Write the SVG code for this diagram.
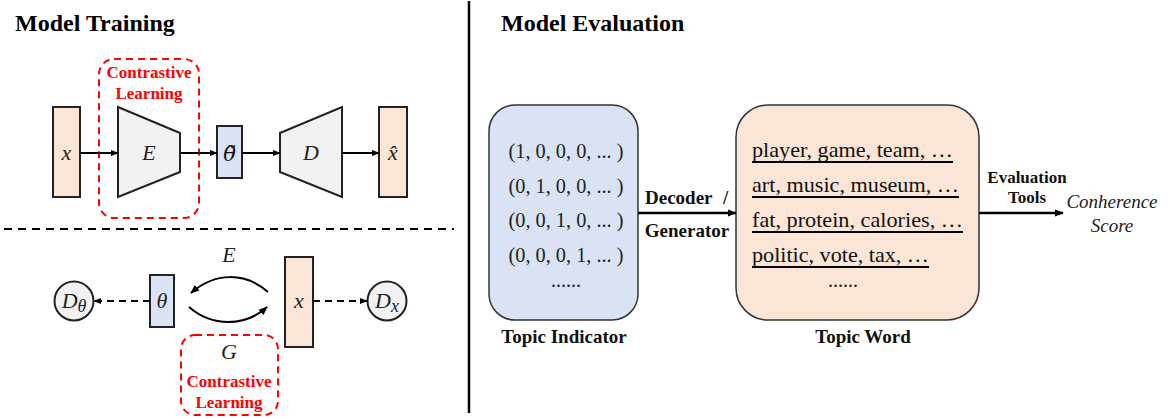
<svg xmlns="http://www.w3.org/2000/svg" width="1169" height="419" viewBox="0 0 1169 419">
<defs>
<marker id="arr" viewBox="0 0 10 10" refX="9" refY="5" markerWidth="9" markerHeight="9" markerUnits="userSpaceOnUse" orient="auto">
<path d="M0,1 L10,5 L0,9 Z" fill="#000"/>
</marker>
<marker id="arrS" viewBox="0 0 10 10" refX="9" refY="5" markerWidth="8" markerHeight="8" markerUnits="userSpaceOnUse" orient="auto">
<path d="M0,1 L10,5 L0,9 Z" fill="#000"/>
</marker>
</defs>
<style>
text{font-family:"Liberation Serif","Times New Roman",serif}
.title{font-weight:bold;font-size:24px;fill:#000}
.math{font-style:italic;font-size:22px;fill:#222;text-anchor:middle}
.mathdv{font-family:"DejaVu Serif",serif;font-style:italic;font-size:21px;fill:#111;text-anchor:middle}
.red{font-weight:bold;font-size:17px;fill:#ff0000;text-anchor:middle}
.redbox{fill:none;stroke:#ff0000;stroke-width:2;stroke-dasharray:7,5}
.peach{fill:#fbe5d6;stroke:#222;stroke-width:2}
.blue{fill:#dae3f3;stroke:#222;stroke-width:2}
.gray{fill:#f2f2f2;stroke:#222;stroke-width:2}
.ln{stroke:#000;stroke-width:2;fill:none}
.dash{stroke:#000;stroke-width:2;fill:none;stroke-dasharray:7,5}
.tup{font-size:20px;fill:#222;text-anchor:middle}
.word{font-size:21px;fill:#111}
.lbl{font-weight:bold;font-size:19px;fill:#111;text-anchor:middle}
.lbls{font-weight:bold;font-size:19px;fill:#111;text-anchor:start}
.small{font-weight:bold;font-size:17px;fill:#111;text-anchor:middle}
.score{font-style:italic;font-size:19px;fill:#222;text-anchor:middle}
.ul{stroke:#000;stroke-width:2}
</style>

<g id="dividers">
<line x1="469" y1="1" x2="469" y2="413" stroke="#000" stroke-width="2.5"/>
<line x1="4" y1="229" x2="454" y2="229" stroke="#000" stroke-width="2" stroke-dasharray="8,6"/>
</g>

<text class="title" x="15" y="31">Model Training</text>
<text class="title" x="501" y="31">Model Evaluation</text>

<g id="x-in"><rect class="peach" x="53" y="107" width="27" height="90"/><text class="math" x="66.5" y="160">x</text></g>
<g id="encoder"><polygon class="gray" points="118,107 180,133 180,172 118,197"/><text class="math" x="149" y="160">E</text></g>
<g id="theta-tilde"><rect class="blue" x="217" y="126" width="25" height="52"/><text class="mathdv" x="229.5" y="161">θ̃</text></g>
<g id="decoder"><polygon class="gray" points="280,133 342,107 342,197 280,172"/><text class="math" x="311" y="160">D</text></g>
<g id="x-hat"><rect class="peach" x="379" y="107" width="28" height="90"/><text class="math" x="393" y="160">x̂</text></g>
<g id="cl-top"><rect class="redbox" x="99" y="59" width="100" height="159" rx="15"/><text class="red" x="149" y="78">Contrastive</text><text class="red" x="149" y="99">Learning</text></g>

<g id="d-theta"><circle class="gray" cx="74" cy="301" r="19.5"/><text class="math" x="74" y="308">D<tspan font-size="18" dy="4">θ</tspan></text></g>
<g id="theta"><rect class="blue" x="150" y="275" width="24" height="52"/><text class="math" x="162" y="308">θ</text></g>
<g id="x-mid"><rect class="peach" x="285" y="257" width="28" height="90"/><text class="math" x="299" y="308">x</text></g>
<g id="d-x"><circle class="gray" cx="387" cy="301" r="19.5"/><text class="math" x="387" y="308">D<tspan font-size="18" dy="4">x</tspan></text></g>
<text class="math" x="229" y="262">E</text>
<g id="cl-bottom"><rect class="redbox" x="181" y="335" width="97" height="80" rx="14"/><text class="math" x="229" y="359">G</text><text class="red" x="229" y="387">Contrastive</text><text class="red" x="229" y="408">Learning</text></g>

<g id="topic-indicator">
<rect x="489" y="105" width="149" height="215" rx="26" fill="#dae3f3" stroke="#333" stroke-width="1.5"/>
<text class="tup" x="566" y="158" textLength="115" lengthAdjust="spacingAndGlyphs">(1, 0, 0, 0, ... )</text>
<text class="tup" x="566" y="193" textLength="115" lengthAdjust="spacingAndGlyphs">(0, 1, 0, 0, ... )</text>
<text class="tup" x="566" y="227" textLength="115" lengthAdjust="spacingAndGlyphs">(0, 0, 1, 0, ... )</text>
<text class="tup" x="566" y="262" textLength="115" lengthAdjust="spacingAndGlyphs">(0, 0, 0, 1, ... )</text>
<text class="tup" x="566" y="287">......</text>
<text class="lbl" x="564" y="343">Topic Indicator</text>
</g>
<g id="topic-word">
<rect x="736" y="105" width="243" height="215" rx="32" fill="#fbe5d6" stroke="#333" stroke-width="1.5"/>
<text class="word" x="752" y="157" textLength="201" lengthAdjust="spacingAndGlyphs">player, game, team, …</text>
<line class="ul" x1="752" y1="162" x2="953" y2="162"/>
<text class="word" x="752" y="192" textLength="207" lengthAdjust="spacingAndGlyphs">art, music, museum, …</text>
<line class="ul" x1="752" y1="197" x2="959" y2="197"/>
<text class="word" x="752" y="227" textLength="211" lengthAdjust="spacingAndGlyphs">fat, protein, calories, …</text>
<line class="ul" x1="752" y1="232" x2="963" y2="232"/>
<text class="word" x="752" y="262" textLength="177" lengthAdjust="spacingAndGlyphs">politic, vote, tax, …</text>
<line class="ul" x1="752" y1="267" x2="929" y2="267"/>
<text class="tup" x="843" y="287">......</text>
<text class="lbl" x="863" y="343">Topic Word</text>
</g>
<g id="score">
<text class="score" x="1112" y="208">Conherence</text>
<text class="score" x="1112" y="232">Score</text>
</g>

<g id="connectors">
<line class="ln" x1="80" y1="153" x2="118" y2="153" marker-end="url(#arrS)"/>
<line class="ln" x1="180" y1="153" x2="217" y2="153" marker-end="url(#arrS)"/>
<line class="ln" x1="242" y1="153" x2="280" y2="153" marker-end="url(#arrS)"/>
<line class="ln" x1="342" y1="153" x2="379" y2="153" marker-end="url(#arrS)"/>
<line class="dash" x1="150" y1="301" x2="94" y2="301" marker-end="url(#arrS)"/>
<line class="dash" x1="313" y1="301" x2="367" y2="301" marker-end="url(#arrS)"/>
<path class="ln" d="M268,292 C245,272 215,272 191,293" marker-end="url(#arr)"/>
<path class="ln" d="M189,307 C212,327 245,327 267,307" marker-end="url(#arr)"/>
<line x1="638" y1="213" x2="736" y2="213" stroke="#000" stroke-width="2.5" marker-end="url(#arr)"/>
<text class="lbls" x="645" y="204">Decoder <tspan x="723">/</tspan></text>
<text class="lbl" x="687" y="237">Generator</text>
<line x1="979" y1="213" x2="1063" y2="213" stroke="#000" stroke-width="2.5" marker-end="url(#arr)"/>
<text class="small" x="1027" y="183">Evaluation</text>
<text class="small" x="1027" y="203">Tools</text>
</g>
</svg>
